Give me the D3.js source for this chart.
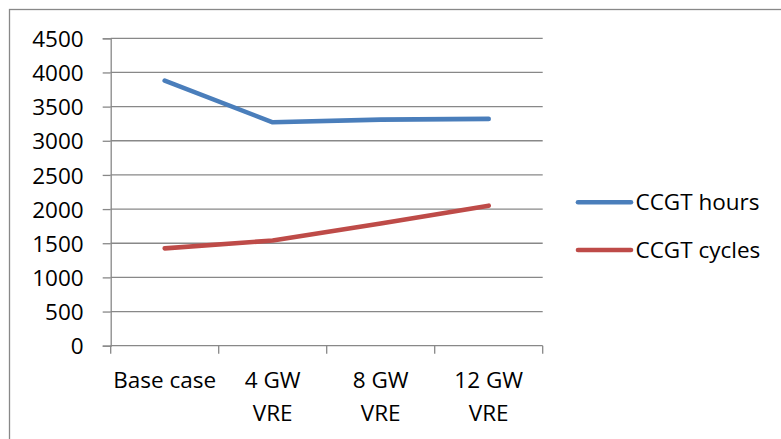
<!DOCTYPE html>
<html>
<head>
<meta charset="utf-8">
<script src="https://cdn.jsdelivr.net/npm/d3@7"></script>
<style>
  html, body { margin: 0; padding: 0; background: #fff; }
  svg { display: block; }
  text { font-family: "Open Sans", sans-serif; font-size: 22.5px; fill: #000; }
</style>
</head>
<body>
<svg id="chart" width="781" height="439"></svg>
<script>
// ---- data ----
const categories = [["Base case"], ["4 GW", "VRE"], ["8 GW", "VRE"], ["12 GW", "VRE"]];
const seriesNames = ["CCGT hours", "CCGT cycles"];
const ccgtHours = [3880, 3270, 3310, 3320];
const ccgtCycles = [1425, 1540, 1790, 2050];
const yTicks = [0, 500, 1000, 1500, 2000, 2500, 3000, 3500, 4000, 4500];
const colors = ["#4a7ebb", "#be4b48"];

const svg = d3.select("#chart");

// outer border (right/bottom edges fall outside the frame)
svg.append("rect")
  .attr("x", 9.5).attr("y", 9.5)
  .attr("width", 790).attr("height", 450)
  .attr("fill", "none").attr("stroke", "#888").attr("stroke-width", 1.3);

const x = d3.scaleBand().domain(d3.range(categories.length)).range([110.7, 542.7]).padding(0);
const y = d3.scaleLinear().domain([0, 4500]).range([345.7, 38.3]);

// gridlines
svg.append("g").selectAll("line").data(yTicks.filter(d => d > 0)).join("line")
  .attr("x1", 110.7).attr("x2", 542.7)
  .attr("y1", d => y(d)).attr("y2", d => y(d))
  .attr("stroke", "#888").attr("stroke-width", 1.3);

// y axis
const yAxis = svg.append("g").attr("transform", "translate(110.7,0)")
  .call(d3.axisLeft(y).tickValues(yTicks).tickSize(8).tickPadding(19).tickFormat(d3.format("d")));
yAxis.select(".domain").attr("stroke", "#888").attr("stroke-width", 1.3);
yAxis.selectAll(".tick line").attr("stroke", "#888").attr("stroke-width", 1.3);
yAxis.selectAll("text").attr("font-family", "Open Sans").attr("font-size", 22.5).attr("fill", "#000").attr("dy", "0.36em");

// x axis
const xAxis = svg.append("g").attr("transform", "translate(0,345.7)");
xAxis.append("line").attr("x1", 110.7).attr("x2", 542.7).attr("y1", 0).attr("y2", 0)
  .attr("stroke", "#888").attr("stroke-width", 1.3);
const xTickPos = d3.range(categories.length + 1).map(i => i < categories.length ? x(i) : x(categories.length - 1) + x.bandwidth());
xAxis.selectAll("line.t").data(xTickPos).join("line").attr("class", "t")
  .attr("x1", d => d).attr("x2", d => d).attr("y1", 0).attr("y2", 8)
  .attr("stroke", "#888").attr("stroke-width", 1.3);
const xl = xAxis.selectAll("text.lab").data(categories).join("text").attr("class", "lab")
  .attr("text-anchor", "middle")
  .attr("x", (d, i) => x(i) + x.bandwidth() / 2);
xl.selectAll("tspan").data(d => d).join("tspan")
  .attr("x", function() { return this.parentNode.getAttribute("x"); })
  .attr("y", (d, i) => 42.5 + i * 32.5)
  .text(d => d);

// lines
const line = d3.line().x((d, i) => x(i) + x.bandwidth() / 2).y(d => y(d));
[ccgtHours, ccgtCycles].forEach((s, k) => {
  svg.append("path").datum(s).attr("d", line)
    .attr("fill", "none").attr("stroke", colors[k]).attr("stroke-width", 4.6)
    .attr("stroke-linecap", "round").attr("stroke-linejoin", "round");
});

// legend
const legY = [202.3, 250];
seriesNames.forEach((n, k) => {
  svg.append("line").attr("x1", 578).attr("x2", 631).attr("y1", legY[k]).attr("y2", legY[k])
    .attr("stroke", colors[k]).attr("stroke-width", 4.6).attr("stroke-linecap", "round");
  svg.append("text").attr("x", 635.5).attr("y", legY[k] + 8).text(n);
});
</script>
</body>
</html>
